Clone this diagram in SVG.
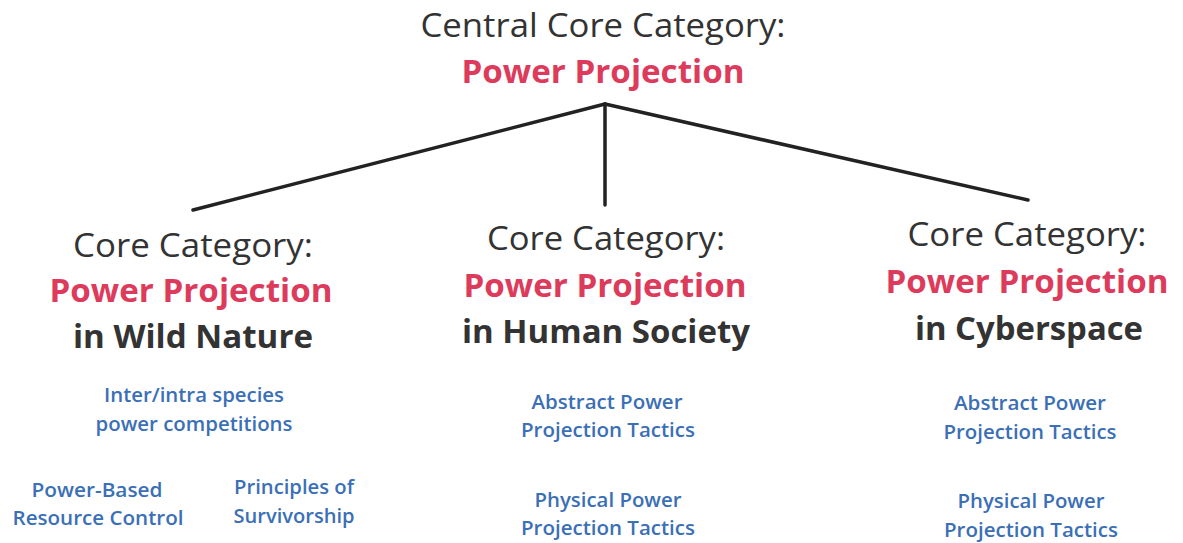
<svg xmlns="http://www.w3.org/2000/svg" width="1183" height="543" viewBox="0 0 1183 543">
<style>
text{font-family:"Open Sans","Noto Sans","Liberation Sans",sans-serif;text-anchor:middle}
.h{font-size:33px;fill:#333}
.r{font-size:32px;font-weight:bold;fill:#dd3b5c}
.b{font-size:32px;font-weight:bold;fill:#333}
.s{font-size:19px;font-weight:600;fill:#3b6fb6}
.ln{stroke:#222;stroke-width:3.5;fill:none;stroke-linecap:round}
</style>
<rect width="1183" height="543" fill="#fff"/>
<g id="connectors">
<line class="ln" x1="605" y1="104" x2="193" y2="210"/>
<line class="ln" x1="605" y1="104" x2="605" y2="205"/>
<line class="ln" x1="605" y1="104" x2="1028" y2="200"/>
</g>
<g id="central">
<text class="h" x="603" y="37" textLength="365" lengthAdjust="spacingAndGlyphs">Central Core Category:</text>
<text class="r" x="603" y="83" textLength="283" lengthAdjust="spacingAndGlyphs">Power Projection</text>
</g>
<g id="wild">
<text class="h" x="193" y="257" textLength="240" lengthAdjust="spacingAndGlyphs">Core Category:</text>
<text class="r" x="191" y="302" textLength="283" lengthAdjust="spacingAndGlyphs">Power Projection</text>
<text class="b" x="193" y="348" textLength="240" lengthAdjust="spacingAndGlyphs">in Wild Nature</text>
</g>
<g id="human">
<text class="h" x="606" y="250" textLength="238" lengthAdjust="spacingAndGlyphs">Core Category:</text>
<text class="r" x="605" y="297" textLength="283" lengthAdjust="spacingAndGlyphs">Power Projection</text>
<text class="b" x="606" y="343" textLength="288" lengthAdjust="spacingAndGlyphs">in Human Society</text>
</g>
<g id="cyber">
<text class="h" x="1027" y="246" textLength="239" lengthAdjust="spacingAndGlyphs">Core Category:</text>
<text class="r" x="1027" y="293" textLength="283" lengthAdjust="spacingAndGlyphs">Power Projection</text>
<text class="b" x="1029" y="340" textLength="228" lengthAdjust="spacingAndGlyphs">in Cyberspace</text>
</g>
<g id="wild-competitions">
<text class="s" x="194" y="402" textLength="180" lengthAdjust="spacingAndGlyphs">Inter/intra species</text>
<text class="s" x="194" y="431" textLength="197" lengthAdjust="spacingAndGlyphs">power competitions</text>
</g>
<g id="wild-resource">
<text class="s" x="97" y="497" textLength="131" lengthAdjust="spacingAndGlyphs">Power-Based</text>
<text class="s" x="98" y="525" textLength="171" lengthAdjust="spacingAndGlyphs">Resource Control</text>
</g>
<g id="wild-survivorship">
<text class="s" x="294" y="494" textLength="120" lengthAdjust="spacingAndGlyphs">Principles of</text>
<text class="s" x="294" y="523" textLength="121" lengthAdjust="spacingAndGlyphs">Survivorship</text>
</g>
<g id="human-abstract">
<text class="s" x="607" y="409" textLength="151" lengthAdjust="spacingAndGlyphs">Abstract Power</text>
<text class="s" x="608" y="437" textLength="174" lengthAdjust="spacingAndGlyphs">Projection Tactics</text>
</g>
<g id="human-physical">
<text class="s" x="608" y="507" textLength="147" lengthAdjust="spacingAndGlyphs">Physical Power</text>
<text class="s" x="608" y="535" textLength="174" lengthAdjust="spacingAndGlyphs">Projection Tactics</text>
</g>
<g id="cyber-abstract">
<text class="s" x="1030" y="410" textLength="152" lengthAdjust="spacingAndGlyphs">Abstract Power</text>
<text class="s" x="1030" y="439" textLength="173" lengthAdjust="spacingAndGlyphs">Projection Tactics</text>
</g>
<g id="cyber-physical">
<text class="s" x="1031" y="508" textLength="147" lengthAdjust="spacingAndGlyphs">Physical Power</text>
<text class="s" x="1031" y="537" textLength="174" lengthAdjust="spacingAndGlyphs">Projection Tactics</text>
</g>
</svg>
